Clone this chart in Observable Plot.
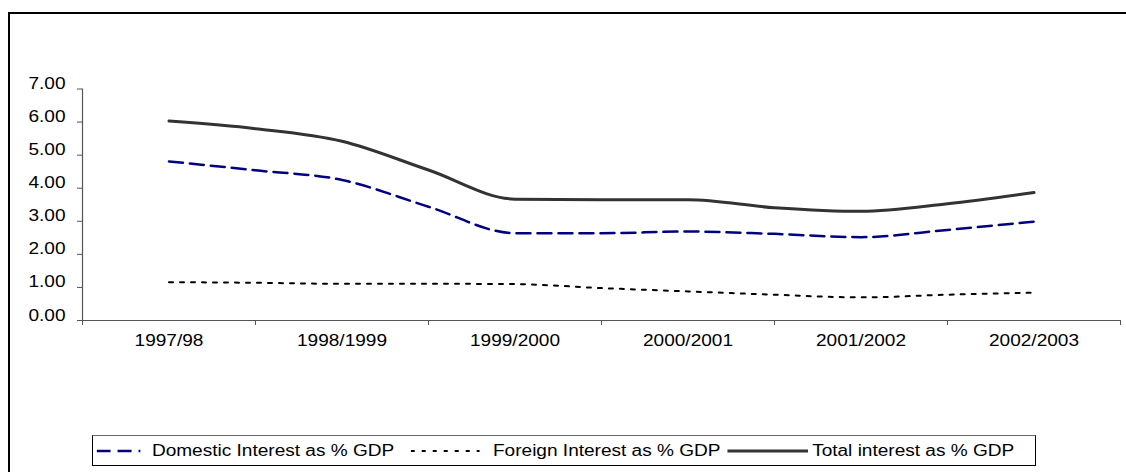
<!DOCTYPE html>
<html>
<head>
<meta charset="utf-8">
<script src="https://cdn.jsdelivr.net/npm/d3@7"></script>
<script src="https://cdn.jsdelivr.net/npm/@observablehq/plot@0.6"></script>
<style>
  html, body { margin: 0; padding: 0; background: #fff; }
  #page { position: relative; width: 1126px; height: 472px; overflow: hidden;
          font-family: "Liberation Sans", Arial, sans-serif; }
  #frame { position: absolute; left: 8px; top: 12px; width: 1300px; height: 700px;
           border-left: 2px solid #000; border-top: 2px solid #000; }
  #chart { position: absolute; left: 0; top: 0; }
  #legend { position: absolute; left: 92px; top: 435px; width: 944px; height: 31px;
            border: 1px solid #000; border-top-color: #666; box-sizing: border-box; background: #fff; }
  #legend .row { position: absolute; left: 0; top: 0; height: 29px; display: flex; align-items: center;
                 transform: scaleX(1.19); transform-origin: 0 0; white-space: nowrap;
                 font-size: 16px; color: #000; }
  #legend svg { display: block; }
</style>
</head>
<body>
<div id="page">
  <div id="frame"></div>
  <div id="chart"></div>
  <div id="legend"><div class="row"></div></div>
</div>
<script>
// Fiscal-year labels on the category axis
const periodLabels = ["1997/98", "1998/1999", "1999/2000", "2000/2001", "2001/2002", "2002/2003"];

// Two readings per fiscal-year interval, eleven in all
const domestic = [4.81, 4.54, 4.25, 3.44, 2.64, 2.64, 2.69, 2.62, 2.52, 2.74, 2.99];
const foreign  = [1.16, 1.14, 1.11, 1.11, 1.10, 0.98, 0.88, 0.78, 0.70, 0.78, 0.84];
const total    = [6.03, 5.80, 5.42, 4.55, 3.67, 3.65, 3.65, 3.41, 3.30, 3.53, 3.87];

// Value axis ticks
const yTicks = [0, 1, 2, 3, 4, 5, 6, 7];

const seriesNames = ["Domestic Interest as % GDP", "Foreign Interest as % GDP", "Total interest as % GDP"];
const seriesStyle = [
  {stroke: "#000080", strokeWidth: 2.5, strokeDasharray: "14,7"},
  {stroke: "#000000", strokeWidth: 2, strokeDasharray: "4,7"},
  {stroke: "#333333", strokeWidth: 3, strokeDasharray: null}
];

// readings sit at half-interval steps along the category axis
const position = domestic.map((_, i) => i / 2);
const toRows = (values) => values.map((v, i) => ({x: position[i], v}));
const series = [domestic, foreign, total].map(toRows);

// tick marks fall between the fiscal-year labels
const boundaries = d3.range(periodLabels.length + 1).map(i => i - 0.5);

const STRETCH = 1.19;

const chart = Plot.plot({
  width: 1126,
  height: 420,
  marginLeft: 82,
  marginRight: 6,
  marginTop: 88.5,
  marginBottom: 100,
  style: {fontFamily: "'Liberation Sans', Arial, sans-serif", fontSize: "16px", color: "#000", background: "transparent"},
  x: {type: "linear", domain: [-0.5, periodLabels.length - 0.5]},
  y: {domain: [0, 7]},
  marks: [
    Plot.axisY({ticks: yTicks, tickFormat: d3.format(".2f"), tickSize: 5, tickPadding: 12, stroke: "#555", fill: "#000", label: null}),
    Plot.axisX({ticks: boundaries, tickSize: 5, tickFormat: () => "", stroke: "#555", label: null}),
    Plot.axisX({ticks: d3.range(periodLabels.length), tickSize: 0, tickPadding: 25,
                tickFormat: i => periodLabels[i], fill: "#000", label: null}),
    Plot.ruleY([0], {stroke: "#555", strokeWidth: 1.2}),
    Plot.ruleX([-0.5], {stroke: "#555", strokeWidth: 1.2}),
    ...series.map((rows, k) => Plot.line(rows, {
      x: "x", y: "v", curve: "monotone-x",
      stroke: seriesStyle[k].stroke,
      strokeWidth: seriesStyle[k].strokeWidth,
      strokeDasharray: seriesStyle[k].strokeDasharray
    }))
  ]
});

// widen the type horizontally, keeping each label's anchor in place
chart.querySelectorAll("text").forEach(t => {
  const x = +t.getAttribute("x") || 0, y = +t.getAttribute("y") || 0;
  const tr = t.getAttribute("transform") || "";
  t.removeAttribute("x"); t.removeAttribute("y");
  t.setAttribute("transform", `${tr} translate(${x},${y}) scale(${STRETCH},1)`);
});
document.getElementById("chart").append(chart);

// legend row (widths given before the horizontal stretch)
const legendLayout = [
  {lead: 2.5, swatch: 37, gap: 10},
  {lead: 14, swatch: 58, gap: 11},
  {lead: 6, swatch: 68, gap: 3}
];
const row = d3.select("#legend .row");
seriesNames.forEach((name, k) => {
  const L = legendLayout[k], st = seriesStyle[k];
  const sw = row.append("svg").attr("width", L.swatch).attr("height", 10)
    .style("margin-left", L.lead + "px").style("margin-right", L.gap + "px");
  sw.append("line").attr("x1", 0).attr("x2", L.swatch).attr("y1", 5).attr("y2", 5)
    .attr("stroke", st.stroke).attr("stroke-width", st.strokeWidth)
    .attr("stroke-dasharray", st.strokeDasharray ? st.strokeDasharray.split(",").map(d => +d / STRETCH).join(",") : null);
  row.append("span").text(name);
});
</script>
</body>
</html>
